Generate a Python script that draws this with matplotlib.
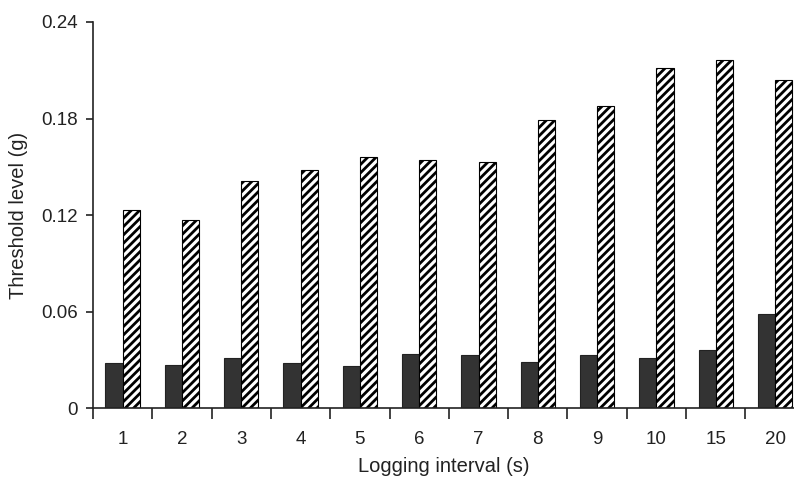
import numpy as np
import matplotlib.pyplot as plt

plt.rcParams['font.family'] = ['Liberation Sans', 'DejaVu Sans']
plt.rcParams['hatch.linewidth'] = 2.0

intervals = ['1', '2', '3', '4', '5', '6', '7', '8', '9', '10', '15', '20']
dark_vals = [0.028, 0.027, 0.031, 0.028, 0.026, 0.0337, 0.033, 0.0288, 0.033, 0.031, 0.036, 0.0586]
hatch_vals = [0.123, 0.117, 0.1414, 0.148, 0.1563, 0.1542, 0.1532, 0.179, 0.188, 0.2112, 0.2163, 0.204]

x = np.arange(len(intervals))
w = 0.29

fig = plt.figure(figsize=(7.94, 4.8), dpi=100)
ax = fig.add_axes([0.1171, 0.1494, 0.883, 0.8048])

ax.bar(x - w / 2, dark_vals, w, color='#333333', edgecolor='#222222', linewidth=0.8)
ax.bar(x + w / 2, hatch_vals, w, color='white', edgecolor='black', hatch='////', linewidth=0.8)

ax.set_xlim(-0.5, 11.32)
ax.set_ylim(0, 0.24)
ax.set_yticks([0, 0.06, 0.12, 0.18, 0.24])
ax.set_yticklabels(['0', '0.06', '0.12', '0.18', '0.24'])

ax.set_xticks(x)
ax.set_xticklabels(intervals)
ax.set_xticks(np.arange(-0.5, 11.5, 1.0), minor=True)
ax.tick_params(axis='x', which='major', length=0, pad=16, labelsize=13.5, colors='#222222')
ax.tick_params(axis='x', which='minor', length=8, width=1.2, direction='out', color='#222222')
ax.tick_params(axis='y', length=5, width=1.2, pad=6, labelsize=13.5, colors='#222222')

for s in ['top', 'right']:
    ax.spines[s].set_visible(False)
for s in ['left', 'bottom']:
    ax.spines[s].set_linewidth(1.2)
    ax.spines[s].set_color('#222222')

ax.set_xlabel('Logging interval (s)', fontsize=14.5, color='#222222', labelpad=7)
ax.set_ylabel('Threshold level (g)', fontsize=14.5, color='#222222', labelpad=9)

fig.savefig('out.png', dpi=100)
